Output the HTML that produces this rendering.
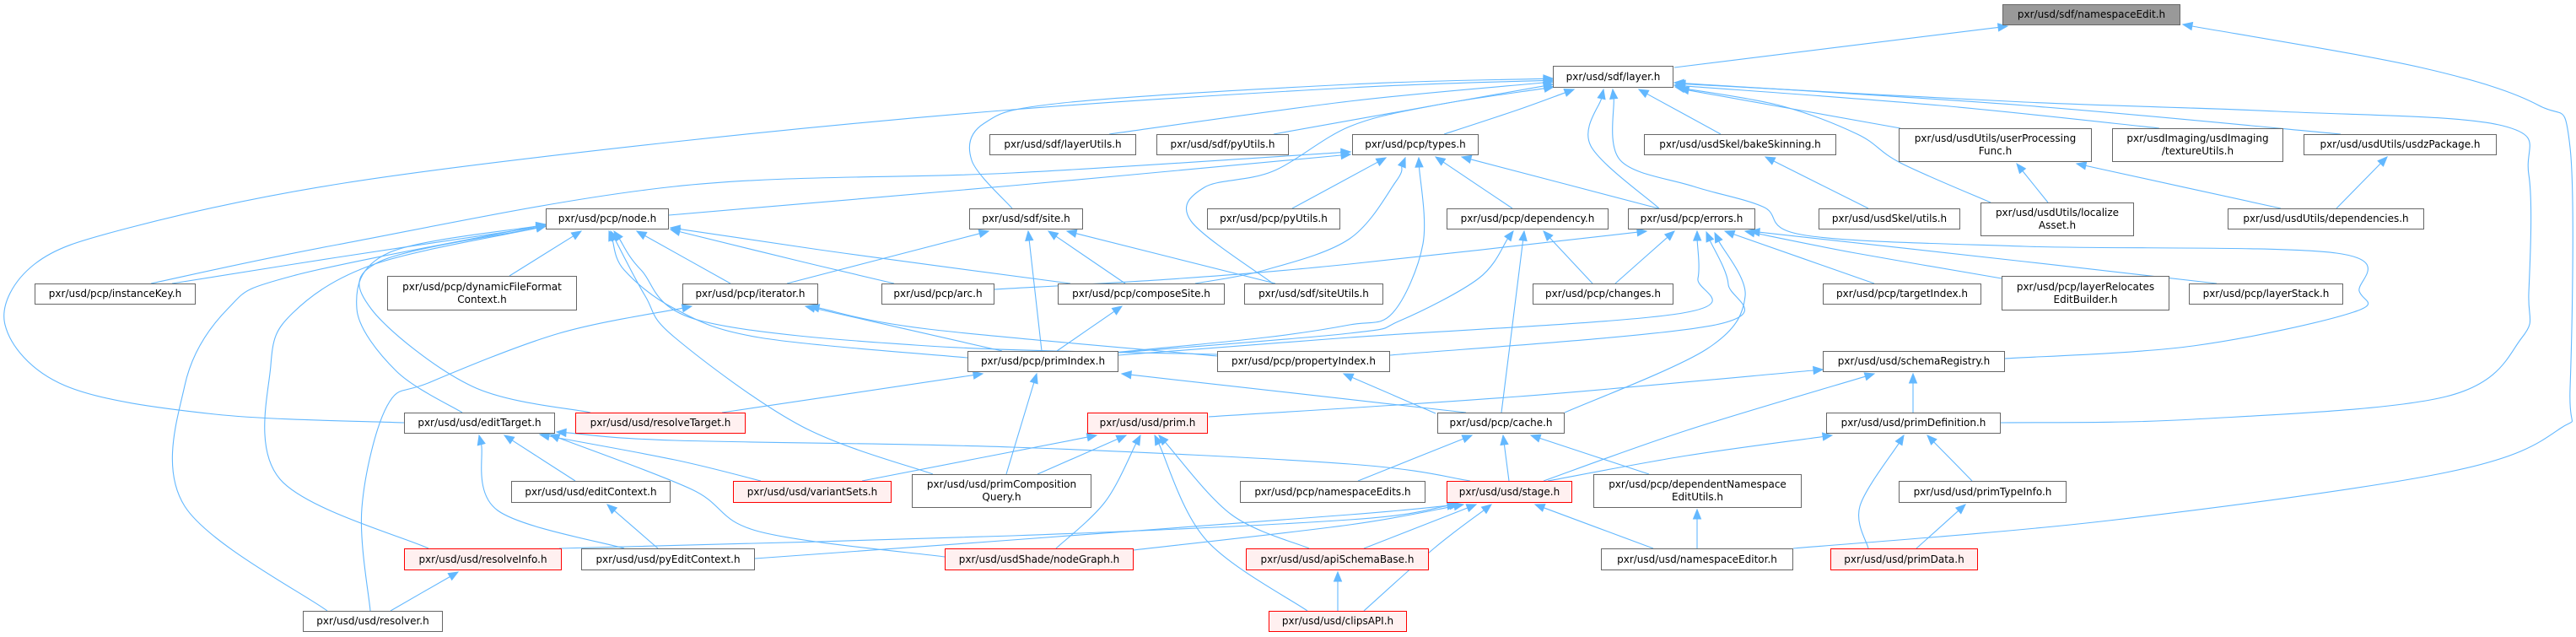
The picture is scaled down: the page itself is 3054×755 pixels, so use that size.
<!DOCTYPE html>
<html><head><meta charset="utf-8">
<style>
html,body{margin:0;padding:0;background:#fff;}
#wrap{position:relative;width:3054px;height:755px;overflow:hidden;}
svg{position:absolute;left:0;top:0;}
.n{position:absolute;box-sizing:border-box;border:1px solid #666;background:#fff;font-family:"DejaVu Sans","Liberation Sans",sans-serif;font-size:12px;color:#000;display:flex;align-items:center;justify-content:center;text-align:center;line-height:15px;white-space:nowrap;}
.r{border-color:#f00;background:#fff0f0;}
.g{background:#999;}
</style></head><body><div id="wrap">
<svg id="s" width="3054" height="755" xmlns="http://www.w3.org/2000/svg"></svg>

<div class="n g" style="left:2374px;top:5px;width:211px;height:25px">pxr/usd/sdf/namespaceEdit.h</div>
<div class="n" style="left:1841px;top:78px;width:143px;height:26px">pxr/usd/sdf/layer.h</div>
<div class="n" style="left:1173px;top:159px;width:174px;height:25px">pxr/usd/sdf/layerUtils.h</div>
<div class="n" style="left:1371px;top:159px;width:157px;height:25px">pxr/usd/sdf/pyUtils.h</div>
<div class="n" style="left:1603px;top:159px;width:150px;height:25px">pxr/usd/pcp/types.h</div>
<div class="n" style="left:1949px;top:159px;width:228px;height:25px">pxr/usd/usdSkel/bakeSkinning.h</div>
<div class="n" style="left:2251px;top:152px;width:229px;height:40px">pxr/usd/usdUtils/userProcessing<br>Func.h</div>
<div class="n" style="left:2504px;top:152px;width:203px;height:40px">pxr/usdImaging/usdImaging<br>/textureUtils.h</div>
<div class="n" style="left:2731px;top:159px;width:229px;height:25px">pxr/usd/usdUtils/usdzPackage.h</div>
<div class="n" style="left:647px;top:247px;width:146px;height:25px">pxr/usd/pcp/node.h</div>
<div class="n" style="left:1149px;top:247px;width:135px;height:25px">pxr/usd/sdf/site.h</div>
<div class="n" style="left:1431px;top:247px;width:158px;height:25px">pxr/usd/pcp/pyUtils.h</div>
<div class="n" style="left:1715px;top:247px;width:192px;height:25px">pxr/usd/pcp/dependency.h</div>
<div class="n" style="left:1930px;top:247px;width:151px;height:25px">pxr/usd/pcp/errors.h</div>
<div class="n" style="left:2156px;top:247px;width:168px;height:25px">pxr/usd/usdSkel/utils.h</div>
<div class="n" style="left:2348px;top:240px;width:182px;height:40px">pxr/usd/usdUtils/localize<br>Asset.h</div>
<div class="n" style="left:2641px;top:247px;width:233px;height:25px">pxr/usd/usdUtils/dependencies.h</div>
<div class="n" style="left:41px;top:336px;width:191px;height:25px">pxr/usd/pcp/instanceKey.h</div>
<div class="n" style="left:459px;top:327px;width:225px;height:41px">pxr/usd/pcp/dynamicFileFormat<br>Context.h</div>
<div class="n" style="left:809px;top:336px;width:161px;height:25px">pxr/usd/pcp/iterator.h</div>
<div class="n" style="left:1045px;top:336px;width:134px;height:25px">pxr/usd/pcp/arc.h</div>
<div class="n" style="left:1254px;top:336px;width:198px;height:25px">pxr/usd/pcp/composeSite.h</div>
<div class="n" style="left:1475px;top:336px;width:165px;height:25px">pxr/usd/sdf/siteUtils.h</div>
<div class="n" style="left:1817px;top:336px;width:167px;height:25px">pxr/usd/pcp/changes.h</div>
<div class="n" style="left:2161px;top:336px;width:188px;height:25px">pxr/usd/pcp/targetIndex.h</div>
<div class="n" style="left:2373px;top:327px;width:199px;height:41px">pxr/usd/pcp/layerRelocates<br>EditBuilder.h</div>
<div class="n" style="left:2595px;top:336px;width:183px;height:25px">pxr/usd/pcp/layerStack.h</div>
<div class="n" style="left:1147px;top:416px;width:179px;height:25px">pxr/usd/pcp/primIndex.h</div>
<div class="n" style="left:1443px;top:416px;width:205px;height:25px">pxr/usd/pcp/propertyIndex.h</div>
<div class="n" style="left:2161px;top:416px;width:216px;height:25px">pxr/usd/usd/schemaRegistry.h</div>
<div class="n" style="left:479px;top:489px;width:179px;height:25px">pxr/usd/usd/editTarget.h</div>
<div class="n r" style="left:682px;top:489px;width:202px;height:25px">pxr/usd/usd/resolveTarget.h</div>
<div class="n r" style="left:1289px;top:489px;width:143px;height:25px">pxr/usd/usd/prim.h</div>
<div class="n" style="left:1704px;top:489px;width:151px;height:25px">pxr/usd/pcp/cache.h</div>
<div class="n" style="left:2165px;top:489px;width:207px;height:25px">pxr/usd/usd/primDefinition.h</div>
<div class="n" style="left:606px;top:570px;width:189px;height:26px">pxr/usd/usd/editContext.h</div>
<div class="n r" style="left:869px;top:570px;width:188px;height:26px">pxr/usd/usd/variantSets.h</div>
<div class="n" style="left:1081px;top:562px;width:213px;height:40px">pxr/usd/usd/primComposition<br>Query.h</div>
<div class="n" style="left:1470px;top:570px;width:220px;height:26px">pxr/usd/pcp/namespaceEdits.h</div>
<div class="n r" style="left:1715px;top:570px;width:149px;height:26px">pxr/usd/usd/stage.h</div>
<div class="n" style="left:1889px;top:562px;width:247px;height:40px">pxr/usd/pcp/dependentNamespace<br>EditUtils.h</div>
<div class="n" style="left:2251px;top:570px;width:199px;height:26px">pxr/usd/usd/primTypeInfo.h</div>
<div class="n r" style="left:479px;top:650px;width:187px;height:26px">pxr/usd/usd/resolveInfo.h</div>
<div class="n" style="left:689px;top:650px;width:206px;height:26px">pxr/usd/usd/pyEditContext.h</div>
<div class="n r" style="left:1120px;top:650px;width:224px;height:26px">pxr/usd/usdShade/nodeGraph.h</div>
<div class="n r" style="left:1477px;top:650px;width:217px;height:26px">pxr/usd/usd/apiSchemaBase.h</div>
<div class="n" style="left:1898px;top:650px;width:228px;height:26px">pxr/usd/usd/namespaceEditor.h</div>
<div class="n r" style="left:2170px;top:650px;width:175px;height:26px">pxr/usd/usd/primData.h</div>
<div class="n" style="left:359px;top:724px;width:166px;height:25px">pxr/usd/usd/resolver.h</div>
<div class="n r" style="left:1504px;top:724px;width:164px;height:25px">pxr/usd/usd/clipsAPI.h</div>
</div>
<script>
var E=[
[1985,80,2380,31],
[2126,650,2500,617,2900,560,3035,508,3047,460,3047,175,3010,125,2870,80,2588,29],
[1315,159,1600,120,1841,97],
[1510,159,1700,125,1841,100],
[1712,159,1800,130,1866,106],
[2040,159,1943,106],
[2253,152,1991,105],
[2560,152,2300,125,1985,101],
[2775,159,2400,125,1985,98],
[2360,240,2253,193,2202,159,2110,125,1986,103],
[1967,247,1886,173,1901,106],
[2377,425,2600,410,2790,370,2797,345,2770,300,2400,292,2141,279,2090,245,2008,221,1921,190,1912,106],
[2372,501,2600,497,2900,470,2990,400,2998,347,2998,207,2967,149,2700,132,2400,121,1987,99],
[1200,247,1152,190,1167,146,1260,122,1600,100,1841,93],
[1509,336,1412,262,1428,222,1509,203,1600,150,1700,125,1842,103],
[479,501,255,491,77,457,6,385,41,313,153,270,408,217,800,168,1200,130,1600,104,1841,95],
[179,336,400,290,800,221,1200,205,1601,180],
[793,255,1200,220,1601,183],
[1532,247,1643,187],
[1417,336,1500,320,1600,283,1655,215,1666,187],
[1179,343,1400,330,1600,313,1952,274],
[1320,418,1500,400,1600,385,1651,371,1687,289,1682,187],
[1793,247,1702,186],
[1966,247,1733,186],
[204,336,400,305,647,268],
[604,327,689,274],
[866,336,755,274],
[1060,336,950,310,795,272],
[1269,336,1000,300,795,270],
[1147,424,900,400,800,366,740,320,722,274],
[1443,420,1100,410,830,380,760,320,728,274],
[700,489,560,458,440,366,450,310,647,268],
[548,489,470,440,423,366,460,300,647,266],
[1106,562,950,505,800,400,765,351,724,274],
[508,650,332,568,321,433,347,371,444,313,647,268],
[388,724,219,600,219,457,270,366,347,327,647,266],
[933,336,1172,274],
[1235,416,1219,274],
[1334,336,1243,274],
[1512,336,1265,274],
[1915,336,1985,274],
[1326,421,1600,400,1995,371,2013,330,2012,274],
[1648,421,2034,385,2049,337,2023,275],
[1855,489,2023,414,2069,351,2033,276],
[2222,336,2045,274],
[2373,330,2200,300,2069,274],
[2628,336,2400,310,2075,274],
[1326,418,1600,395,1660,380,1753,330,1794,274],
[1888,336,1830,274],
[1780,489,1807,274],
[1253,416,1330,363],
[1188,416,955,363],
[1443,422,1100,390,960,363],
[439,724,429,602,459,481,510,453,663,395,820,363],
[856,489,1165,443],
[1193,562,1229,443],
[1738,489,1330,443],
[1702,490,1593,443],
[1610,570,1745,516],
[1789,570,1782,516],
[1955,562,1815,516],
[1433,494,1800,470,2161,438],
[1830,570,2000,510,2222,443],
[2268,489,2268,443],
[1835,570,2000,540,2172,516],
[2338,570,2285,516],
[2215,650,2205,600,2257,516],
[2272,650,2330,598],
[1022,570,1300,516],
[1230,562,1335,516],
[1252,650,1310,595,1352,516],
[1552,650,1460,610,1374,516],
[1550,724,1430,640,1369,516],
[902,570,800,545,640,515],
[1120,660,900,630,820,580,652,515],
[1743,570,1600,550,1200,530,800,522,660,512],
[682,570,598,516],
[740,650,590,605,568,516],
[780,650,720,598],
[663,650,1200,635,1600,616,1727,598],
[895,662,1200,640,1600,610,1730,598],
[1344,652,1600,622,1735,598],
[1617,650,1750,598],
[1617,724,1700,650,1768,598],
[1960,650,1820,598],
[1586,724,1586,678],
[2012,650,2012,604],
[463,724,543,678],
[2428,240,2391,194],
[2704,247,2462,194],
[2770,247,2830,186],
[2215,247,2093,186]
];
var s=document.getElementById('s'),NS='http://www.w3.org/2000/svg',out='';
E.forEach(function(a){
 var p=[];for(var i=0;i<a.length;i+=2)p.push([a[i],a[i+1]]);
 var n=p.length,e=p[n-1],q=p[n-2];
 var dx=e[0]-q[0],dy=e[1]-q[1],L=Math.sqrt(dx*dx+dy*dy)||1;dx/=L;dy/=L;
 var al=11,aw=4.5;
 var b=[e[0]-dx*al,e[1]-dy*al];
 var pts=p.slice(0,n-1).concat([b]);
 var d='M'+pts[0][0]+','+pts[0][1];
 for(var i=0;i<pts.length-1;i++){
  var p0=pts[i-1]||pts[i],p1=pts[i],p2=pts[i+1],p3=pts[i+2]||p2;
  var c1=[p1[0]+(p2[0]-p0[0])/6,p1[1]+(p2[1]-p0[1])/6];
  var c2=[p2[0]-(p3[0]-p1[0])/6,p2[1]-(p3[1]-p1[1])/6];
  d+=' C'+c1[0].toFixed(1)+','+c1[1].toFixed(1)+' '+c2[0].toFixed(1)+','+c2[1].toFixed(1)+' '+p2[0].toFixed(1)+','+p2[1].toFixed(1);
 }
 out+='<path d="'+d+'" fill="none" stroke="#63b8ff" stroke-width="1.1"/>';
 out+='<polygon points="'+e[0]+','+e[1]+' '+(b[0]-dy*aw).toFixed(1)+','+(b[1]+dx*aw).toFixed(1)+' '+(b[0]+dy*aw).toFixed(1)+','+(b[1]-dx*aw).toFixed(1)+'" fill="#63b8ff" stroke="#63b8ff"/>';
});
s.innerHTML=out;
</script>
</body></html>
